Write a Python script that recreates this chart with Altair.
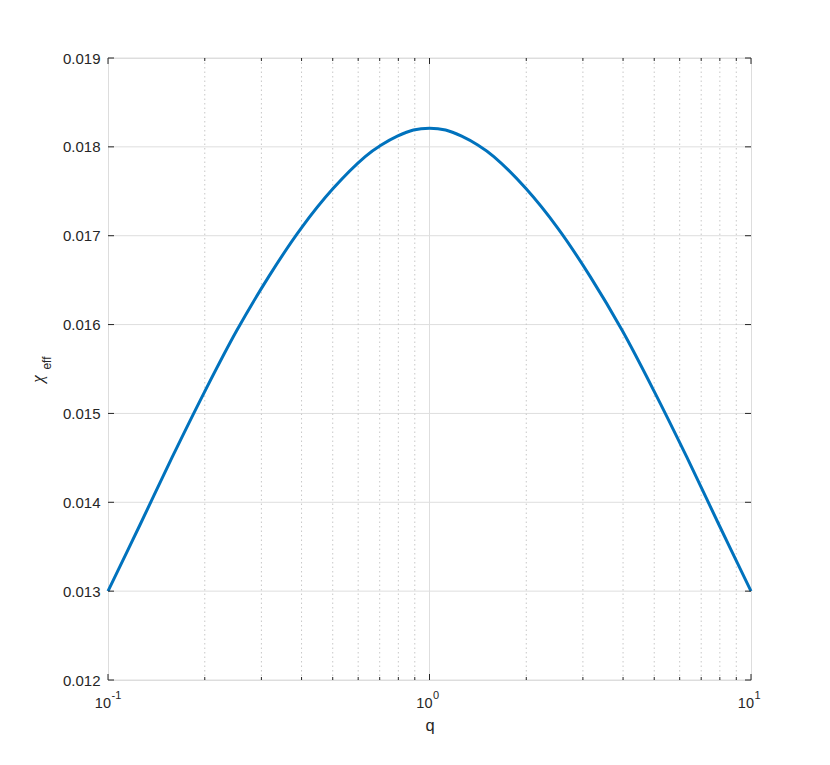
import altair as alt
import pandas as pd

# ---- data ----
q_vals = [0.1, 0.1259, 0.1585, 0.1995, 0.2512, 0.3162, 0.3981, 0.5012, 0.631,
          0.7079, 0.7943, 0.8913, 1.0, 1.122, 1.259, 1.413, 1.585, 1.995,
          2.512, 3.162, 3.981, 5.012, 6.31, 7.943, 10.0]
chi_vals = [0.01300, 0.01375, 0.01451, 0.01524, 0.01593, 0.01654, 0.01708,
            0.01753, 0.01789, 0.01802, 0.01812, 0.01819, 0.01821, 0.01819,
            0.01812, 0.01802, 0.01789, 0.01753, 0.01708, 0.01654, 0.01593,
            0.01524, 0.01451, 0.01375, 0.01300]

y_ticks = [0.012, 0.013, 0.014, 0.015, 0.016, 0.017, 0.018, 0.019]
x_major = [0.1, 1.0, 10.0]
x_major_exp = ["-1", "0", "1"]
x_minor = [0.2, 0.3, 0.4, 0.5, 0.6, 0.7, 0.8, 0.9, 2, 3, 4, 5, 6, 7, 8, 9]

W, H = 643, 622
FONT = "Liberation Sans"
TXT = "#262626"

xscale = alt.Scale(type="log", domain=[0.1, 10], nice=False)
yscale = alt.Scale(domain=[0.012, 0.019], nice=False, zero=False)
xaxis = alt.Axis(values=x_major, labels=False, ticks=False, domain=False, grid=False,
                 title="q", titleFontSize=16.5, titleFont=FONT, titleColor=TXT,
                 titleFontWeight="normal", titlePadding=37)
yaxis = alt.Axis(values=y_ticks, format=".3f", ticks=False, domain=False, grid=False,
                 labelFontSize=15, labelFont=FONT, labelColor=TXT, labelPadding=8,
                 title=None)


def X(field="q"):
    return alt.X(f"{field}:Q", scale=xscale, axis=xaxis)


def Y(field="chi"):
    return alt.Y(f"{field}:Q", scale=yscale, axis=yaxis)


curve_df = pd.DataFrame({"q": q_vals, "chi": chi_vals})
ytick_df = pd.DataFrame({"chi": y_ticks})
xmaj_df = pd.DataFrame({"q": x_major, "e": x_major_exp, "b": ["10"] * len(x_major)})
xmin_df = pd.DataFrame({"q": x_minor})

# grids
hgrid = alt.Chart(ytick_df).mark_rule(color="#dedede", strokeWidth=1).encode(y=Y())
vgrid_minor = alt.Chart(xmin_df).mark_rule(color="#c8c8c8", strokeWidth=1,
                                           strokeDash=[1.5, 3]).encode(x=X())
vgrid_major = alt.Chart(pd.DataFrame({"q": [1.0]})).mark_rule(
    color="#dedede", strokeWidth=1).encode(x=X())

# inward ticks
tick_style = dict(color=TXT, strokeWidth=1)
yt_left = alt.Chart(ytick_df).mark_rule(**tick_style).encode(
    y=Y(), x=alt.value(0), x2=alt.value(6))
yt_right = alt.Chart(ytick_df).mark_rule(**tick_style).encode(
    y=Y(), x=alt.value(W - 6), x2=alt.value(W))
xt_bot = alt.Chart(xmaj_df).mark_rule(**tick_style).encode(
    x=X(), y=alt.value(H - 6), y2=alt.value(H))
xt_top = alt.Chart(xmaj_df).mark_rule(**tick_style).encode(
    x=X(), y=alt.value(0), y2=alt.value(6))
xmt_bot = alt.Chart(xmin_df).mark_rule(**tick_style).encode(
    x=X(), y=alt.value(H - 3), y2=alt.value(H))
xmt_top = alt.Chart(xmin_df).mark_rule(**tick_style).encode(
    x=X(), y=alt.value(0), y2=alt.value(3))

# curve
curve = alt.Chart(curve_df).mark_line(color="#0072BD", strokeWidth=3,
                                      interpolate="catmull-rom").encode(x=X(), y=Y())

# x tick labels 10^n
xl_base = alt.Chart(xmaj_df).mark_text(align="right", baseline="alphabetic",
                                       fontSize=14.5, font=FONT, color=TXT, dx=3).encode(
    x=X(), y=alt.value(H + 28), text="b:N")
xl_exp = alt.Chart(xmaj_df).mark_text(align="left", baseline="alphabetic",
                                      fontSize=11, font=FONT, color=TXT, dx=3.5).encode(
    x=X(), y=alt.value(H + 19), text="e:N")

# y title chi_eff
one = pd.DataFrame({"k": [0]})
ttl_chi = alt.Chart(one).mark_text(text="χ", angle=270, align="center",
                                   baseline="alphabetic", fontSize=17,
                                   font="Liberation Serif", fontStyle="italic",
                                   color=TXT).encode(x=alt.value(-65), y=alt.value(321))
ttl_eff = alt.Chart(one).mark_text(text="eff", angle=270, align="center",
                                   baseline="alphabetic", fontSize=12, font=FONT,
                                   color=TXT).encode(x=alt.value(-57), y=alt.value(305))

chart = alt.layer(
    hgrid, vgrid_minor, vgrid_major,
    curve,
    yt_left, yt_right, xt_bot, xt_top, xmt_bot, xmt_top,
    xl_base, xl_exp, ttl_chi, ttl_eff,
).properties(
    width=W, height=H,
    autosize=alt.AutoSizeParams(type="none"),
    padding={"left": 100, "top": 50, "right": 60, "bottom": 60},
).configure_view(
    stroke=TXT, strokeWidth=1
).configure(background="white")

chart.save("out.html", embed_options={"renderer": "svg", "actions": False})
